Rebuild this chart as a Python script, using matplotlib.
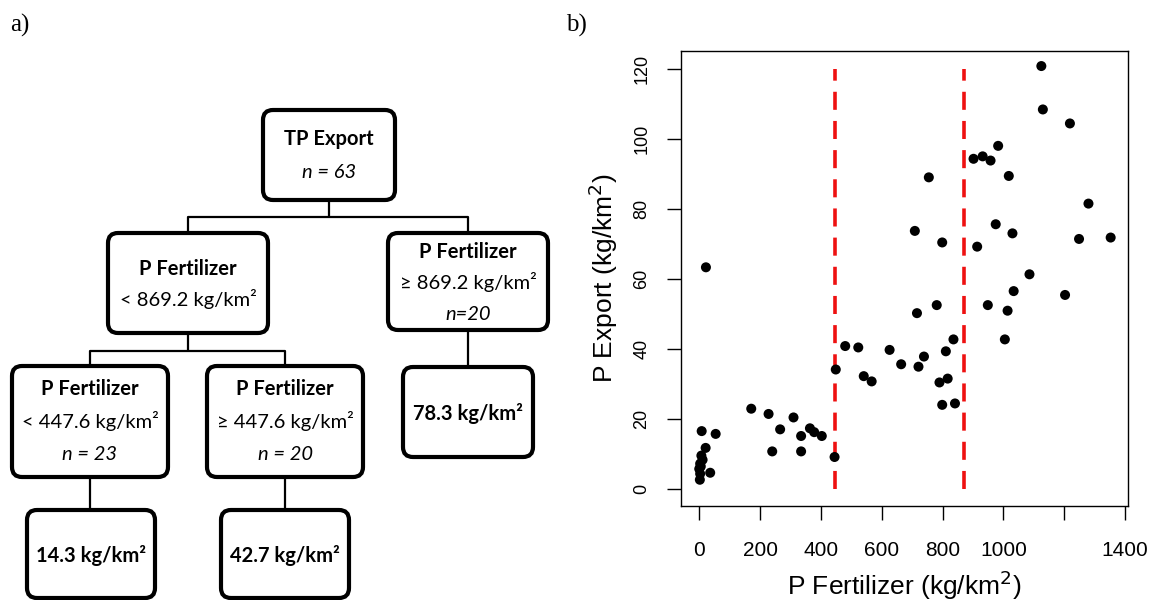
import matplotlib
matplotlib.use("Agg")
import matplotlib.pyplot as plt
from matplotlib.patches import FancyBboxPatch

plt.rcParams["lines.scale_dashes"] = False

# ---------------- data ----------------
# regression tree: node text (label, weight, style) per line
root_lines = [("TP Export", "bold", "normal"), ("n = 63", "normal", "italic")]
low_split_lines = [("P Fertilizer", "bold", "normal"), ("< 869.2 kg/km²", "normal", "normal")]
high_split_lines = [("P Fertilizer", "bold", "normal"), ("≥ 869.2 kg/km²", "normal", "normal"),
                    ("n=20", "normal", "italic")]
lowest_lines = [("P Fertilizer", "bold", "normal"), ("< 447.6 kg/km²", "normal", "normal"),
                ("n = 23", "normal", "italic")]
middle_lines = [("P Fertilizer", "bold", "normal"), ("≥ 447.6 kg/km²", "normal", "normal"),
                ("n = 20", "normal", "italic")]
leaf_means = [14.3, 42.7, 78.3]
split_values = [447.6, 869.2]

# scatter: P fertilizer input vs P export per catchment (kg/km2)
fertilizer = [445, 171, 228, 310, 266, 364, 378, 403, 335, 240, 335,
              22, 8, 54, 21, 36, 7, 11, 3, 0, 5, 3, 2,
              755, 709, 799, 781, 716, 836, 811, 739, 721, 664,
              626, 480, 523, 449, 541, 567, 817, 790, 799, 841,
              1125, 1130, 1219, 983, 902, 932, 958, 1018, 1280, 975,
              1030, 1249, 1353, 914, 1086, 1203, 1034, 949, 1014, 1005]
export = [9.0, 22.8, 21.3, 20.3, 16.9, 17.2, 16.1, 15.0, 15.0, 10.6, 10.6,
          63.2, 16.4, 15.6, 11.6, 4.5, 9.4, 8.2, 7.1, 5.6, 6.3, 4.2, 2.5,
          88.9, 73.6, 70.3, 52.4, 50.1, 42.6, 39.2, 37.7, 34.8, 35.5,
          39.6, 40.7, 40.3, 34.0, 32.1, 30.6, 31.4, 30.3, 23.9, 24.3,
          120.7, 108.3, 104.3, 97.9, 94.2, 94.9, 93.7, 89.3, 81.4, 75.5,
          72.9, 71.3, 71.7, 69.1, 61.2, 55.3, 56.4, 52.4, 50.8, 42.6]
x_ticks = [0, 200, 400, 600, 800, 1000, 1200, 1400]
x_ticklabels = ["0", "200", "400", "600", "800", "1000", "", "1400"]
y_ticks = [0, 20, 40, 60, 80, 100, 120]

# ---------------- figure ----------------
W, H = 1152, 600
fig = plt.figure(figsize=(W / 100, H / 100), dpi=100)

# panel a) drawn in pixel coordinates on a full-figure overlay
tree = fig.add_axes([0, 0, 1, 1])
tree.set_xlim(0, W)
tree.set_ylim(H, 0)
tree.axis("off")

TREE_FONT = ["Lato", "DejaVu Sans"]
FS = 14.5


def box(x0, y0, x1, y1):
    tree.add_patch(FancyBboxPatch((x0, y0), x1 - x0, y1 - y0,
                                  boxstyle="round,pad=0,rounding_size=10",
                                  fc="white", ec="black", lw=3.0, zorder=3))


def lines_in_box(cx, ys, lines):
    for y, (txt, wt, st) in zip(ys, lines):
        tree.text(cx, y, txt, ha="center", va="center", fontsize=FS,
                  fontweight=wt, fontstyle=st, family=TREE_FONT, zorder=4)


def connector(pts):
    xs, ys = zip(*pts)
    tree.plot(xs, ys, color="black", lw=1.6, zorder=2, solid_capstyle="butt")


# connectors
connector([(329, 200), (329, 217)])
connector([(188, 233), (188, 217), (468, 217), (468, 233)])
connector([(188, 333), (188, 351)])
connector([(90, 366), (90, 351), (285, 351), (285, 366)])
connector([(468, 330), (468, 367)])
connector([(90, 477), (90, 510)])
connector([(285, 477), (285, 510)])

# root
box(263, 110, 395, 200)
lines_in_box(329, [139, 172], root_lines)
# first split
box(108, 233, 268, 333)
lines_in_box(188, [269, 299], low_split_lines)
box(388, 233, 548, 330)
lines_in_box(468, [252, 282, 315], high_split_lines)
# second split
box(12, 366, 168, 477)
lines_in_box(90, [389, 421, 455], lowest_lines)
box(207, 366, 363, 477)
lines_in_box(285, [389, 421, 455], middle_lines)
# leaves
leaf_boxes = [(27, 510, 155, 598), (221, 510, 349, 598), (403, 367, 533, 457)]
for (x0, y0, x1, y1), m in zip(leaf_boxes, leaf_means):
    box(x0, y0, x1, y1)
    tree.text((x0 + x1) / 2, (y0 + y1) / 2 + 1, f"{m:.1f} kg/km²", ha="center",
              va="center", fontsize=FS, fontweight="bold", family=TREE_FONT, zorder=4)

# panel letters
tree.text(10, 25, "a)", fontsize=18, family="Liberation Serif", va="center", ha="left")
tree.text(566, 25, "b)", fontsize=18, family="Liberation Serif", va="center", ha="left")

# panel b) scatter
ax = fig.add_axes([681 / W, 1 - 506 / H, (1128 - 681) / W, (506 - 51) / H])
ax.scatter(fertilizer, export, s=52, color="black", edgecolors="none", zorder=3)
for v in split_values:
    ax.plot([v, v], [0, 120], color="#ee1111", lw=2.6, dashes=(13, 8), zorder=2)

ax.set_xlim(-60, 1410)
ax.set_ylim(-5, 125)
ax.set_xticks(x_ticks)
ax.set_xticklabels(x_ticklabels)
ax.set_yticks(y_ticks)
ax.set_yticklabels([str(t) for t in y_ticks], rotation=90, va="center")
for s in ax.spines.values():
    s.set_linewidth(1.0)

ax.tick_params(axis="both", direction="out", length=10, width=1.0, color="black",
               labelfontfamily="Liberation Sans")
ax.tick_params(axis="x", pad=15, labelsize=15)
ax.tick_params(axis="y", pad=12, labelsize=13)

ax.set_xlabel("P Fertilizer (kg/km$^2$)", fontsize=19, family="Liberation Sans", labelpad=6)
ax.set_ylabel("P Export (kg/km$^2$)", fontsize=19, family="Liberation Sans", labelpad=10)

fig.savefig("out.png", dpi=100, facecolor="white")
